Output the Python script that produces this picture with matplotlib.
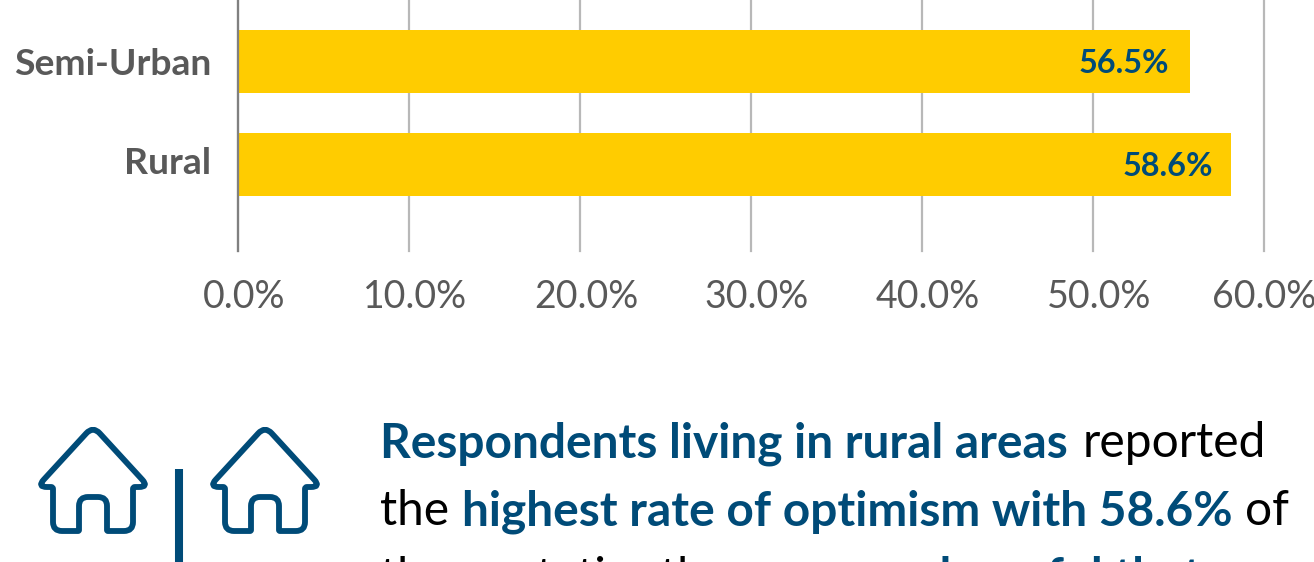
import matplotlib
matplotlib.use("Agg")
import matplotlib.pyplot as plt
from matplotlib.patches import PathPatch
from matplotlib.path import Path
from matplotlib.transforms import ScaledTranslation
import numpy as np

plt.rcParams['font.family'] = ['Lato', 'DejaVu Sans']

categories = ["Semi-Urban", "Rural"]
# bar lengths as drawn in the picture, the printed labels differ a little
values = [55.7, 58.05]
value_labels = ["56.5%", "58.6%"]
xticks = [0, 10, 20, 30, 40, 50, 60]
xtick_labels = ["0.0%", "10.0%", "20.0%", "30.0%", "40.0%", "50.0%", "60.0%"]

W, H = 1314, 562
BLUE = "#004b78"
GOLD = "#ffcc00"
GREY = "#595959"

fig = plt.figure(figsize=(W / 100, H / 100), dpi=100)


def nudge(label, dx, dy):
    # shift a tick label by pixels
    label.set_transform(label.get_transform() + ScaledTranslation(dx / 100, dy / 100, fig.dpi_scale_trans))


# axes box: x0 at px 238, 60% at px 1264, bottom at px 251, runs off the top
ax = fig.add_axes([238 / W, 1 - 251 / H, (1264 - 238) / W, 251 / H])
ax.set_xlim(0, 60)
ax.set_ylim(251, 0)
ypos = [61.5, 164]
ax.barh(ypos, values, height=63, color=GOLD, zorder=3)
ax.set_yticks(ypos)
ax.set_yticklabels(categories, fontsize=26.8, fontweight="bold", color=GREY)
ax.set_xticks(xticks)
ax.set_xticklabels(xtick_labels, fontsize=27, color=GREY)
ax.tick_params(axis="y", length=0, pad=19)
ax.tick_params(axis="x", length=0, pad=20)
for lab in ax.get_xticklabels()[:-1]:
    nudge(lab, 6, 0)
nudge(ax.get_yticklabels()[1], 0, 3)
ax.grid(axis="x", color="#b8b8b8", lw=1.6, zorder=0)
for g in ax.get_xgridlines():
    g.set_clip_on(False)
for s in ["top", "right", "bottom"]:
    ax.spines[s].set_visible(False)
ax.spines["left"].set_color("#808080")
ax.spines["left"].set_linewidth(1.6)
ax.spines["left"].set_zorder(4)
label_right = [54.47, 57.02]
label_dy = [2, 3]
for y, x, d, lab in zip(ypos, label_right, label_dy, value_labels):
    ax.text(x, y + d, lab, ha="right", va="center", fontsize=23.3, fontweight="bold", color=BLUE, zorder=5)

# whole-figure overlay in pixel coords for the icons and the caption
ov = fig.add_axes([0, 0, 1, 1])
ov.set_xlim(0, W)
ov.set_ylim(H, 0)
ov.axis("off")


def rounded(pts):
    # closed outline, each corner (x, y, radius) is cut with a quadratic curve
    verts, codes = [], []
    n = len(pts)
    for i in range(n):
        p = np.array(pts[i][:2], float)
        a = np.array(pts[i - 1][:2], float)
        b = np.array(pts[(i + 1) % n][:2], float)
        r = pts[i][2]
        p0 = p + (a - p) / np.linalg.norm(a - p) * r
        p1 = p + (b - p) / np.linalg.norm(b - p) * r
        verts.append(p0)
        codes.append(Path.MOVETO if i == 0 else Path.LINETO)
        verts += [p, p1]
        codes += [Path.CURVE3, Path.CURVE3]
    verts.append(verts[0])
    codes.append(Path.CLOSEPOLY)
    return Path(verts, codes)


def house(cx):
    pts = [(-40, 531, 9), (-40, 487, 2), (-56, 487, 10), (0, 426, 10), (56, 487, 10),
           (40, 487, 2), (40, 531, 9), (14, 531, 1), (14, 497, 9), (-14, 497, 9), (-14, 531, 1)]
    ov.add_patch(PathPatch(rounded([(cx + x, y, r) for x, y, r in pts]), fill=False, ec=BLUE,
                           lw=4.2, joinstyle="round"))


house(93)
house(265)
ov.plot([179, 179], [469, 562], color=BLUE, lw=5.8, solid_capstyle="butt")


def line(y, parts):
    # parts are (text, bold, left x) runs set on one baseline
    for s, bold, x in parts:
        ov.text(x, y, s, fontsize=34.5, color=BLUE if bold else "black",
                fontweight="bold" if bold else "normal", va="baseline", ha="left")


line(457, [("Respondents living in rural areas", True, 380), ("reported", False, 1083)])
line(525, [("the", False, 380), ("highest rate of optimism with 58.6%", True, 462), ("of", False, 1245)])
# only the tops of this line are inside the picture, the words are a best guess
line(592, [("the", False, 380), ("reputation,", False, 441), ("the", False, 660),
           ("are more hopeful that", True, 738)])

fig.savefig("out.png", dpi=100)
